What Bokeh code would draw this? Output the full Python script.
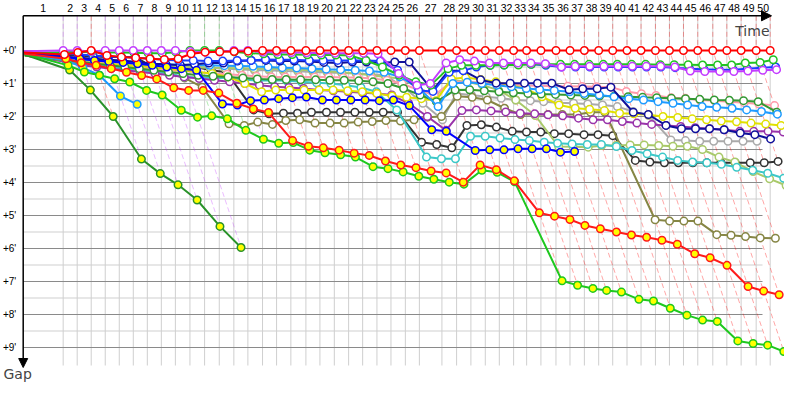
import numpy as np
from bokeh.plotting import figure
from bokeh.models import Range1d, Arrow, NormalHead, Label, ColumnDataSource
from bokeh.core.properties import value
from bokeh.embed import file_html
from bokeh.resources import INLINE

# ---------------- data ----------------
# leader lap times (seconds), laps 1..50
lap_times = [218, 76.5, 76.5, 76.5, 76.5, 76.5, 76.5, 76.5, 76.5, 79.5,
             80, 80, 79.5, 76.5, 80, 76.5, 78, 82, 76.5, 78.5,
             78, 76.5, 78, 76.5, 78.5, 76.5, 123, 80, 78, 78.5,
             76.5, 78, 71, 78, 82, 76.5, 78.5, 78, 76.5, 78,
             76.5, 78.5, 76.5, 76.5, 78, 82, 76.5, 78, 82, 76.5]
lap_labels = [str(i) for i in range(1, 51)]
gap_ticks = [0, 1, 2, 3, 4, 5, 6, 7, 8, 9]
gap_tick_labels = ["+%d'" % m for m in gap_ticks]

# gaps to the leader (minutes), index = lap (0 = start)
gap_red = [0.06, 0.12, 0.06, 0.0, 0.15, 0.2, 0.22, 0.25, 0.27, 0.25, 0.1, 0.05, 0.04, 0.03, 0.02,
           0, 0, 0, 0, 0, 0, 0, 0, 0, 0, 0, 0, 0, 0, 0, 0, 0, 0, 0, 0, 0, 0,
           0, 0, 0, 0, 0, 0, 0, 0, 0, 0, 0, 0, 0, 0]
gap_violet = [0.02, 0.0, 0.0, 0.03, 0.0, 0.0, 0.0, 0.0, 0.0, 0.0, 0.03, 0.05, 0.04, 0.0, 0.0,
              0.05, 0.05, 0.06, 0.07, 0.08, 0.08, 0.08, 0.08, 0.1,
              0.7, 1.05, 1.0,
              0.38, 0.28, 0.32, 0.38, 0.38, 0.38, 0.38, 0.4,
              0.5, 0.48, 0.48, 0.48, 0.48, 0.48, 0.48, 0.48, 0.5,
              0.62, 0.64, 0.64, 0.64, 0.62, 0.6, 0.58]
gap_green = [0.08, 0.05, 0.04, 0.05, 0.06, 0.06, 0.07, 0.08, 0.08, 0.05,
             0.0, 0.0, 0.0, 0.04, 0.08,
             0.1, 0.12, 0.12, 0.13, 0.14, 0.14, 0.15,
             0.3, 0.5, 0.75, 0.95, 1.05,
             0.55, 0.45, 0.45, 0.45, 0.44, 0.44, 0.42, 0.42,
             0.42, 0.42, 0.42, 0.42, 0.42, 0.42, 0.42, 0.43, 0.43,
             0.43, 0.44, 0.44, 0.44, 0.38, 0.36, 0.28]
gap_navy = [0.1, 0.2, 0.22, 0.25, 0.28, 0.3, 0.35, 0.4, 0.42, 0.45, 0.42, 0.38, 0.38, 0.32, 0.3,
            0.3, 0.32, 0.32, 0.33, 0.36, 0.38, 0.35, 0.35, 0.37, 0.35, 0.35,
            1.21, 0.61, 0.61, 0.89, 0.99, 0.99, 0.99, 0.99, 0.99,
            1.19, 1.16, 1.16, 1.11, 1.87, 1.94, 2.27, 2.37, 2.37, 2.37, 2.4, 2.5, 2.55, 2.68]
gap_blue = [0.06, 0.1, 0.12, 0.15, 0.18, 0.2, 0.22, 0.25, 0.28, 0.3, 0.3, 0.32, 0.32, 0.3, 0.3,
            0.27, 0.28, 0.28, 0.3, 0.3, 0.3, 0.3, 0.3, 0.32,
            0.6, 1.21, 1.24,
            0.66, 0.61, 0.5, 0.45, 0.44, 0.42, 0.42, 0.45,
            0.5, 0.5, 0.5, 0.5, 0.5, 0.5, 0.5, 0.5, 0.52,
            0.55, 0.57, 0.58, 0.58, 0.55, 0.52, 0.5]
gap_lightblue = [0.1, 0.22, 0.28, 0.3, 0.32, 0.35, 0.38, 0.4, 0.42, 0.43, 0.44, 0.45, 0.46, 0.47, 0.48,
                 0.5, 0.52, 0.53, 0.55, 0.57, 0.58, 0.6, 0.62,
                 0.66, 0.8, 1.1, 1.7,
                 1.0, 0.96, 1.0, 1.05, 1.1, 1.15, 1.18, 1.21, 1.25, 1.3, 1.35, 1.4,
                 1.46, 1.5, 1.55, 1.6, 1.65, 1.7, 1.72, 1.75, 1.8, 1.85, 1.93]
gap_pink = [0.1, 0.25, 0.3, 0.35, 0.4, 0.45, 0.5, 0.55, 0.6, 0.62, 0.65, 0.7, 0.72, 0.75, 0.78,
            0.8, 0.8, 0.8, 0.8, 0.8, 0.82, 0.82, 0.85, 0.9,
            1.0, 1.2, 1.35,
            0.95, 0.95, 0.98, 1.0, 1.03, 1.06, 1.07, 1.08, 1.08, 1.09, 1.1, 1.11,
            1.24, 1.31, 1.36, 1.43, 1.45, 1.5, 1.52, 1.55, 1.58, 1.62, 1.67]
gap_yellow = [0.15, 0.3, 0.35, 0.38, 0.42, 0.45, 0.48, 0.5, 0.55, 0.6, 0.65, 0.7, 0.8, 1.0, 1.25,
              1.2, 1.2, 1.2, 1.2, 1.2, 1.22, 1.25, 1.3, 1.38, 1.42, 1.46, 1.52,
              0.86, 0.82, 0.88, 0.95, 1.05, 1.16, 1.4, 1.65, 1.75, 1.78, 1.82, 1.9,
              1.92, 1.95, 2.0, 2.03, 2.07, 2.1, 2.14, 2.16, 2.2, 2.23, 2.27]
gap_darkgreen = [0.15, 0.3, 0.35, 0.4, 0.45, 0.5, 0.55, 0.6, 0.65, 0.7, 0.75, 0.78, 0.8, 0.83, 0.86,
                 0.88, 0.88, 0.89, 0.89, 0.9, 0.9, 0.92, 0.95, 1.0,
                 1.15, 1.35, 1.55,
                 1.2, 1.19, 1.22, 1.25, 1.28, 1.3, 1.32, 1.33, 1.35, 1.36, 1.38, 1.39,
                 1.4, 1.42, 1.43, 1.45, 1.46, 1.48, 1.5, 1.51, 1.52, 1.55, 1.87]
gap_olive = [0.15, 0.3, 0.38, 0.42, 0.45, 0.5, 0.55, 0.6, 0.7, 0.83,
             1.11, 2.22, 2.27, 2.17, 2.24,
             2.12, 2.1, 2.2, 2.2, 2.2, 2.17, 2.15, 2.12, 2.14, 2.1, 2.02, 2.0,
             1.39, 1.42, 1.5, 1.75, 1.94, 1.94, 1.94, 1.94, 1.94, 1.87, 1.87,
             5.13, 5.17, 5.17, 5.17, 5.58, 5.6, 5.64, 5.68, 5.69]
gap_yellowgreen = [0.12, 0.3, 0.35, 0.38, 0.4, 0.42, 0.45, 0.47, 0.48, 0.5, 0.5, 0.52, 0.53, 0.54, 0.55,
                   0.55, 0.56, 0.58, 0.6, 0.63, 0.66, 0.7, 0.75, 0.8, 0.85, 1.1, 1.4,
                   0.9, 0.95, 1.05, 1.2, 1.5, 1.97,
                   2.91, 2.92, 2.93, 2.88, 2.88, 2.86, 2.86, 2.88, 2.9, 2.9, 3.0, 3.23, 3.38, 3.67, 3.89, 4.09]
gap_cyan = [0.12, 0.3, 0.4, 0.45, 0.5, 0.55, 0.6, 0.65, 0.7, 0.8, 0.82, 0.83, 0.83, 0.88, 0.91,
            0.9, 0.92, 0.95, 0.98, 1.0, 1.05, 1.12, 1.25, 1.8,
            3.23, 3.28, 3.28,
            2.6, 2.6, 2.65, 2.7, 2.73, 2.78, 2.81, 2.83, 2.85, 2.85, 2.91,
            3.03, 3.13, 3.23, 3.33, 3.38, 3.4, 3.45, 3.54, 3.63, 3.72, 3.87]
gap_black = [0.08, 0.15, 0.15, 0.18, 0.2, 0.2, 0.2, 0.5, 0.55, 0.55, 0.5, 0.6, 0.66,
             1.8, 1.92, 1.9, 1.9, 1.87, 1.87, 1.87, 1.87, 1.87, 1.87, 1.87,
             2.78, 2.85, 2.95, 2.27, 2.25, 2.32, 2.45, 2.47, 2.47, 2.52, 2.52, 2.55, 2.55, 2.58,
             3.33, 3.38, 3.4, 3.4, 3.4, 3.4, 3.4, 3.4, 3.4, 3.4, 3.36]
gap_grey = [0.1, 0.25, 0.3, 0.33, 0.35, 0.38, 0.4, 0.42, 0.45, 0.48, 0.5, 0.52, 0.55, 0.57, 0.6,
            0.6, 0.62, 0.63, 0.65, 0.67, 0.68, 0.7, 0.72, 0.75,
            1.1, 1.6, 2.1,
            1.3, 1.35, 1.4, 1.45, 1.5, 1.52, 1.55, 1.58, 1.6, 1.62, 1.65, 1.7, 1.85, 1.97,
            2.71, 2.73, 2.75, 2.75, 2.75, 2.75, 2.75]
gap_purple = [0.15, 0.35, 0.45, 0.5, 0.55, 0.6, 0.65, 0.7, 0.75, 0.8, 0.85, 0.9, 0.95, 1.0, 1.05,
              1.1, 1.12, 1.15, 1.2, 1.22, 1.25, 1.28, 1.3, 1.35,
              1.6, 2.0, 2.42,
              1.82, 1.8, 1.83, 1.86, 1.9, 1.92, 1.95, 1.98, 2.05, 2.1, 2.1, 2.15,
              2.2, 2.24, 2.27, 2.3, 2.34, 2.37, 2.4, 2.45, 2.45, 2.45, 2.47]
gap_blue_y = [0.1, 0.2, 0.25, 0.3, 0.33, 0.36, 0.4, 0.45, 0.5, 0.55, 0.6,
              1.62, 1.65, 1.52, 1.5, 1.46, 1.43, 1.41, 1.5, 1.5, 1.5, 1.5, 1.52, 1.5, 1.67,
              2.4, 2.45, 3.03, 3.01, 3.01, 2.98, 2.98, 2.98, 3.08, 3.06]
gap_red_y = [0.1, 0.25, 0.37, 0.45, 0.55, 0.66, 0.76, 0.86, 1.13, 1.21, 1.21, 1.29, 1.6, 1.77, 1.88,
             2.73, 2.9, 2.95, 3.02, 3.11, 3.18, 3.35, 3.47, 3.55, 3.65, 3.71, 3.99, 3.47, 3.61, 3.95,
             4.92, 5.02, 5.12, 5.30, 5.40, 5.5, 5.59, 5.66, 5.75, 5.87, 6.16, 6.28, 6.51, 7.15, 7.29, 7.40]
gap_green_y = [0.1, 0.45, 0.65, 0.75, 0.855, 0.955, 1.21, 1.35, 1.81, 2.02, 1.98, 2.07, 2.42, 2.69, 2.81,
               2.79, 3.02, 3.10, 3.16, 3.23, 3.52, 3.58, 3.68, 3.81, 3.90, 3.99, 4.05, 3.63, 3.69, 3.98,
               6.98, 7.115, 7.21, 7.27, 7.32, 7.54, 7.59, 7.81, 8.02, 8.17, 8.21, 8.80, 8.88, 8.93, 9.12]
gap_darkgreen_y = [0.12, 0.59, 1.2, 2.0, 3.29, 3.73, 4.07, 4.53, 5.33, 5.97]
gap_lightblue_y = [0.1, 0.3, 0.52, 0.75, 1.38, 1.63]

# drawing order (bottom first): (line colour, marker fill, gaps)
cars = [
    ("#333333", "white", gap_black),
    ("#aaaaaa", "white", gap_grey),
    ("#868645", "white", gap_olive),
    ("#a9c96a", "white", gap_yellowgreen),
    ("#3cc8c8", "white", gap_cyan),
    ("#9933aa", "white", gap_purple),
    ("#ff9aaa", "white", gap_pink),
    ("#e0e000", "white", gap_yellow),
    ("#339933", "white", gap_darkgreen),
    ("#1e9bff", "white", gap_lightblue),
    ("#10109a", "white", gap_navy),
    ("#1a3cff", "white", gap_blue),
    ("#22c322", "white", gap_green),
    ("#c33cff", "white", gap_violet),
    ("#2a922a", "#ffff00", gap_darkgreen_y),
    ("#1e9bff", "#ffff00", gap_lightblue_y),
    ("#0000ff", "#ffff00", gap_blue_y),
    ("#1ec81e", "#ffff00", gap_green_y),
    ("#ff1a1a", "#ffff00", gap_red_y),
    ("#ff0000", "white", gap_red),
]

# ---------------- scales / layout ----------------
T = np.concatenate([[0.0], np.cumsum(lap_times)])
PX_PER_S = 11.0 / 60.0
PX_PER_MIN = 33.0
W, H = 784, 384
FIG_X0, FIG_Y0 = 8.0, 10.0   # reference-image pixel at the figure's top-left corner


def img_x(px):
    return (px - 30.7) / PX_PER_S


def img_y(py):
    return (py - 60.0) / PX_PER_MIN


p = figure(width=W, height=H,
           x_range=Range1d(img_x(FIG_X0), img_x(FIG_X0 + W)),
           y_range=Range1d(img_y(FIG_Y0 + H), img_y(FIG_Y0)),
           output_backend="svg", toolbar_location=None, min_border=0,
           x_axis_type=None, y_axis_type=None, outline_line_color=None,
           background_fill_color="white", border_fill_color="white")

g_top = img_y(25.3)
g_bottom = img_y(375)
x_right = img_x(770)

# grid
half = [m + 0.5 for m in gap_ticks[:-1]]
p.segment(x0=[0] * len(half), y0=half, x1=[x_right] * len(half), y1=half,
          line_color="#cfcfcf", line_width=1)
p.segment(x0=T[1:], y0=[g_top] * 50, x1=T[1:], y1=[g_bottom] * 50,
          line_color="#cfcfcf", line_width=1)
p.segment(x0=[0] * len(gap_ticks), y0=gap_ticks, x1=[x_right] * len(gap_ticks), y1=gap_ticks,
          line_color="#8a8a8a", line_width=1)

# lap lines (dashed) coloured by the leader of each lap
dxs, dys, dcol = [], [], []
for n in range(1, 51):
    cand = [(g[n], c) for (c, f, g) in cars if len(g) > n]
    lead = min(cand, key=lambda t: t[0])
    gmax = max(t[0] for t in cand)
    dxs.append([T[n], T[n], T[n] + 60 * gmax])
    dys.append([g_top, 0.0, gmax])
    dcol.append(lead[1])
p.multi_line(xs="xs", ys="ys", line_color="c", source=ColumnDataSource(dict(xs=dxs, ys=dys, c=dcol)),
             line_alpha=0.35, line_dash="5 3", line_width=1)

# cars (no marker at the start, lap 0)
for color, fill, g in cars:
    g = np.array(g, dtype=float)
    xs = T[:len(g)] + 60.0 * g
    p.line(xs, g, line_color=color, line_width=2)
    p.scatter(xs[1:], g[1:], size=7.5, marker="circle", line_color=color, fill_color=fill, line_width=1.5)

# axes with arrows
p.add_layout(Arrow(end=NormalHead(size=10, fill_color="black", line_color="black"),
                   x_start=0, y_start=g_top, x_end=img_x(779), y_end=g_top,
                   line_color="black", line_width=1.5))
p.add_layout(Arrow(end=NormalHead(size=9, fill_color="black", line_color="black"),
                   x_start=0, y_start=g_top, x_end=0, y_end=img_y(377),
                   line_color="black", line_width=1.5))

# lap labels
mids = (T[:-1] + T[1:]) / 2.0
p.text(x=mids, y=[img_y(17.5)] * 50, text=lap_labels, text_align="center", text_baseline="middle",
       text_font=value("Liberation Sans"), text_font_size=value("10.5px"), text_color="black")
# gap labels
p.text(x=[0] * len(gap_ticks), y=gap_ticks, text=gap_tick_labels, x_offset=-7,
       text_align="right", text_baseline="middle",
       text_font=value("Liberation Sans"), text_font_size=value("10px"), text_color="black")

p.add_layout(Label(x=img_x(777), y=img_y(40), text="Time", text_align="right",
                   text_baseline="alphabetic", text_font="DejaVu Sans", text_font_size="14px"))
p.add_layout(Label(x=img_x(11), y=img_y(FIG_Y0 + 381), text="Gap", text_align="left",
                   text_baseline="bottom", text_font="DejaVu Sans", text_font_size="14px"))

open("out.html", "w").write(file_html(p, INLINE))
